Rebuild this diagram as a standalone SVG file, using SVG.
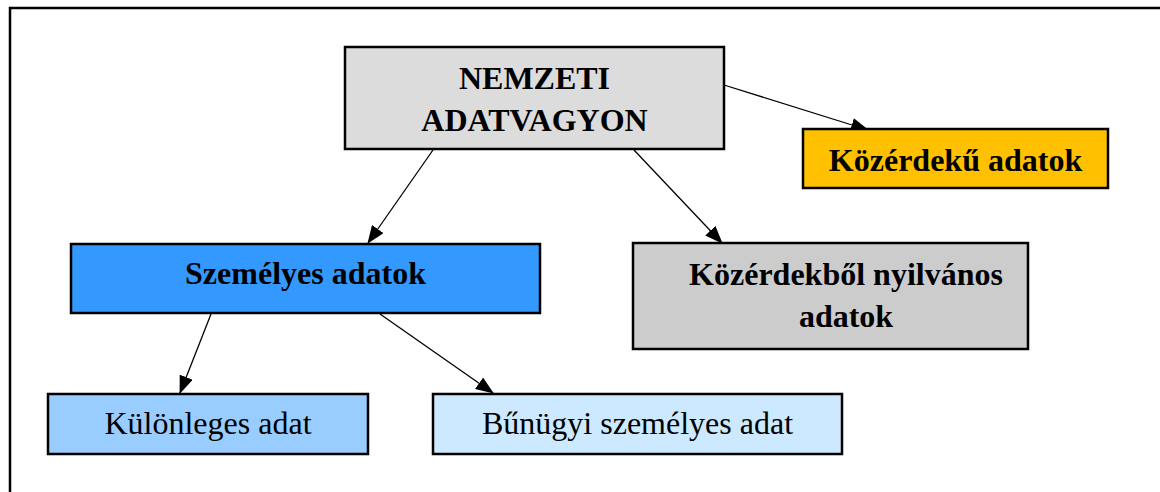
<svg xmlns="http://www.w3.org/2000/svg" width="1160" height="492" viewBox="0 0 1160 492">
<style>
.box{stroke:#000;stroke-width:2.5}
.b{font-family:"Liberation Serif","Times New Roman",serif;font-size:32px;font-weight:bold;fill:#000;text-anchor:middle}
.r{font-family:"Liberation Serif","Times New Roman",serif;font-size:32px;fill:#000;text-anchor:middle}
.c{stroke:#000;stroke-width:1.3;fill:none;marker-end:url(#ah)}
</style>
<defs>
<marker id="ah" markerUnits="userSpaceOnUse" markerWidth="18" markerHeight="14" viewBox="0 0 18 14" refX="17" refY="7" orient="auto">
<path d="M0,0 L18,7 L0,14 Z" fill="#000"/>
</marker>
</defs>
<rect width="1160" height="492" fill="#fff"/>
<path d="M10,492 V8 H1160" fill="none" stroke="#000" stroke-width="2.5"/>
<g id="connectors">
<line class="c" x1="724" y1="85" x2="868" y2="130"/>
<line class="c" x1="433" y1="150" x2="368" y2="243"/>
<line class="c" x1="634" y1="150" x2="722" y2="243"/>
<line class="c" x1="211" y1="314" x2="180" y2="393"/>
<line class="c" x1="380" y1="314" x2="493" y2="393"/>
</g>
<g id="nemzeti">
<rect class="box" x="345" y="47" width="379" height="102" fill="#dcdcdc"/>
<text class="b" x="534.5" y="89">NEMZETI</text>
<text class="b" x="534.5" y="131">ADATVAGYON</text>
</g>
<g id="kozerdeku">
<rect class="box" x="803" y="129" width="305" height="59" fill="#ffc000"/>
<text class="b" x="955.5" y="171">Közérdekű adatok</text>
</g>
<g id="szemelyes">
<rect class="box" x="71" y="244" width="469" height="69" fill="#3399ff"/>
<text class="b" x="305.5" y="284">Személyes adatok</text>
</g>
<g id="kozerdekbol">
<rect class="box" x="633" y="243" width="395" height="106" fill="#cccccc"/>
<text class="b" x="846" y="285">Közérdekből nyilvános</text>
<text class="b" x="846" y="327">adatok</text>
</g>
<g id="kulonleges">
<rect class="box" x="48" y="394" width="320" height="60" fill="#99ccff"/>
<text class="r" x="208" y="434">Különleges adat</text>
</g>
<g id="bunugyi">
<rect class="box" x="433" y="394" width="409" height="60" fill="#cce9ff"/>
<text class="r" x="637.5" y="434">Bűnügyi személyes adat</text>
</g>
</svg>
